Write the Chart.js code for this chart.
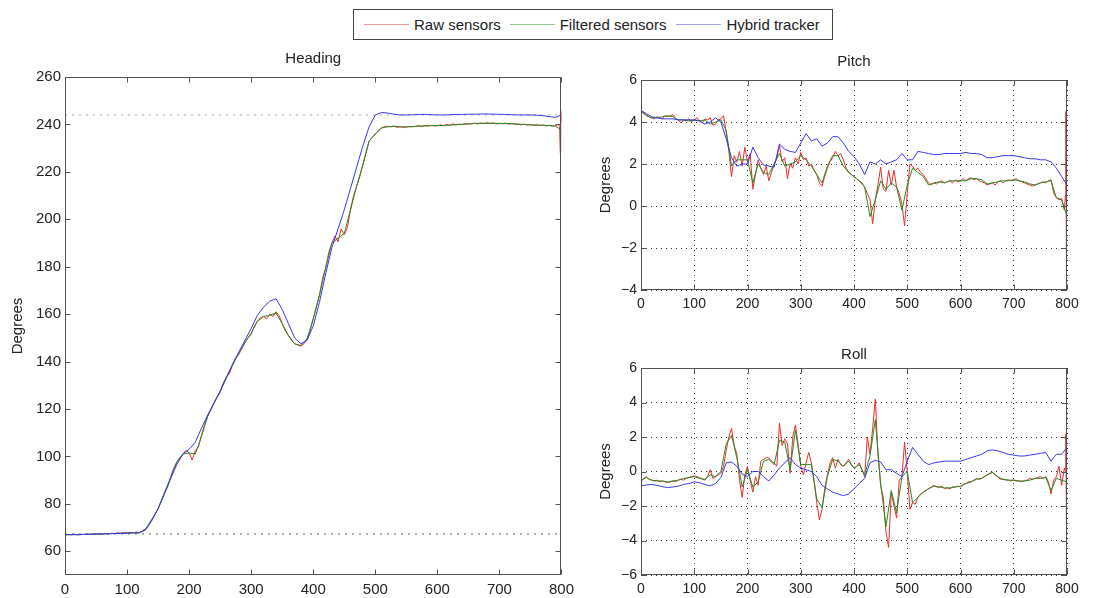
<!DOCTYPE html>
<html>
<head>
<meta charset="utf-8">
<title>Heading / Pitch / Roll</title>
<script src="https://cdn.jsdelivr.net/npm/chart.js@4.4.1/dist/chart.umd.min.js"></script>
<style>
  html, body { margin: 0; padding: 0; background: #fff; }
  body { width: 1099px; height: 598px; position: relative; overflow: hidden;
         font-family: "Liberation Sans", Arial, sans-serif; color: #222; }
  canvas { position: absolute; }
  #legend { position: absolute; left: 353px; top: 9px; width: 480px; height: 31px;
            border: 1px solid #444; box-sizing: border-box; display: flex;
            align-items: center; font-size: 15px; white-space: nowrap; }
  #legend .item { display: flex; align-items: center; }
  #legend .swatch { display: inline-block; height: 0; border-top: 1px solid; margin-right: 5px; }
</style>
</head>
<body>
<div id="legend"></div>
<canvas id="headingChart" width="580" height="553" style="left:0;top:45px"></canvas>
<canvas id="pitchChart" width="510" height="270" style="left:580px;top:45px"></canvas>
<canvas id="rollChart" width="510" height="263" style="left:580px;top:335px"></canvas>
<script>
// series names and colours
const seriesNames = ['Raw sensors', 'Filtered sensors', 'Hybrid tracker'];
const seriesColors = ['rgb(236,45,45)', 'rgb(35,140,35)', 'rgb(55,55,245)'];
const legendColors = ['#f29a9a', '#8cc88c', '#a0a0f0'];

// x ticks shared by all three panels
const timeTicks = [0, 100, 200, 300, 400, 500, 600, 700, 800];

// raw sensors are sampled every 5, with the last few samples at the end of the run
const rawTime = Array.from({ length: 160 }, (_, i) => i * 5).concat([797, 798, 799, 800]);
// filtered sensors and hybrid tracker every 10
const smoothTime = Array.from({ length: 81 }, (_, i) => i * 10);

// ---- Heading (degrees) ----
const headingYTicks = [60, 80, 100, 120, 140, 160, 180, 200, 220, 240, 260];
const headingRefLevels = [244, 67.3];
const headingRaw = [
  67, 67.1, 67, 67.2, 66.9, 67, 67.1, 67.3, 67.1, 67.2,
  67.4, 67.2, 67.3, 67.5, 67.4, 67.6, 67.5, 67.8, 67.6, 67.9,
  67.7, 68, 67.8, 68.1, 67.9, 68.5, 69.5, 71, 73.5, 75.5,
  78, 81, 84.5, 87, 91, 95, 97.5, 99.5, 101, 102.5,
  101.5, 98.5, 102.5, 104, 109, 113.5, 117, 119.5, 122.5, 125,
  127, 131, 133.5, 135, 138.5, 141.5, 143, 145.5, 148, 150,
  151.5, 155, 157, 158.5, 159, 158, 160, 159, 161, 159.5,
  156, 153, 151, 149, 147.5, 147, 146.5, 147.5, 149.5, 153,
  158, 163, 168, 175, 179.5, 186, 190, 193, 190.5, 196,
  193.5, 196.5, 204, 210, 214, 218, 223, 228, 233, 234.5,
  236, 237.5, 238.5, 239, 239.2, 239, 239.3, 238.8, 239, 238.7,
  238.9, 239.1, 239, 239.2, 239.4, 239.1, 239.5, 239.3, 239.6, 239.4,
  239.5, 239.8, 239.5, 240, 239.6, 240.2, 239.8, 240.1, 240, 240.4,
  240.1, 240.3, 240.5, 240.2, 240.6, 240.3, 240.7, 240.4, 240.6, 240.2,
  240.5, 240.3, 240.6, 240.1, 240.4, 240, 240.2, 239.8, 240.1, 239.7,
  240, 239.6, 239.9, 239.5, 239.8, 239.4, 239.7, 239.2, 239.5, 240,
  239, 228, 246, 241
];
const headingFiltered = [
  67, 67, 67.1, 67.1, 67.2, 67.2, 67.3, 67.4, 67.5, 67.5,
  67.6, 67.7, 67.8, 69.5, 73.5, 78, 84.5, 91, 97.5, 101,
  101.5, 101, 108.5, 117, 122.5, 127.5, 133.5, 138.5, 143.5, 148,
  152, 157, 159, 159.5, 160.5, 156, 151, 147.5, 146.8, 149.5,
  158, 168, 179.5, 190, 192, 194, 204, 214, 223, 233,
  236, 238.5, 239, 239.2, 239, 239, 239.1, 239.3, 239.4, 239.5,
  239.5, 239.6, 239.7, 239.9, 240, 240.2, 240.4, 240.5, 240.5, 240.5,
  240.4, 240.4, 240.3, 240.1, 240, 239.8, 239.7, 239.6, 239.5, 239.4,
  237.5
];
const headingHybrid = [
  67, 67, 67, 67.1, 67.2, 67.3, 67.3, 67.4, 67.5, 67.6,
  67.7, 67.8, 67.8, 69, 73, 78, 84, 90.5, 96.5, 101,
  103, 106, 112, 117.5, 122.5, 127.5, 133, 139, 144, 149,
  154, 159.5, 163, 165.5, 166.5, 162, 156, 150, 147.5, 149,
  155, 165, 177, 188, 196, 204, 213, 222, 231, 239,
  244, 245, 244.8, 244.3, 244, 244, 244.1, 244.2, 244.2, 244.1,
  244, 244, 244.1, 244.2, 244.2, 244.3, 244.3, 244.4, 244.4, 244.3,
  244.3, 244.2, 244.1, 244, 244, 244, 243.9, 243.7, 243.3, 243,
  244
];

// ---- Pitch (degrees) ----
const pitchYTicks = [-4, -2, 0, 2, 4, 6];
const pitchRaw = [
  4.55, 4.45, 4.35, 4.25, 4.2, 4.15, 4.25, 4.2, 4.15, 4.3,
  4.25, 4.3, 4.35, 4.15, 4.1, 3.95, 4.1, 4.05, 4.15, 4.0,
  4.1, 4.2, 4.05, 3.95, 4.15, 4.1, 4.2, 3.85, 3.9, 4.1,
  4.15, 4.3, 3.5, 2.6, 1.4, 2.4, 2.1, 2.6, 1.9, 2.8,
  2.1, 2.5, 0.8, 1.5, 2.2, 1.8, 1.5, 1.9, 1.2, 1.6,
  2.0, 2.3, 2.9, 2.1, 2.3, 1.3, 2.0, 1.8, 2.3, 2.0,
  2.55, 2.2, 2.3, 1.9, 2.0, 1.7, 1.5, 1.1, 0.95, 1.4,
  1.8, 2.1, 2.3, 2.6, 2.4, 2.5, 2.2, 1.8, 1.6, 1.5,
  1.4, 1.3, 1.2, 1.1, 0.9, 0.6, 0.3, -0.85, 0.3, 1.0,
  1.85, 0.8, 0.7, 1.7, 1.0, 1.7, 0.9, 0.6, 0.1, -0.95,
  0.6, 2.0, 1.9, 1.7, 1.8, 1.6, 1.5, 1.3, 1.1, 1.0,
  1.1, 1.05, 1.15, 1.2, 1.1, 1.15, 1.2, 1.1, 1.25, 1.15,
  1.2, 1.3, 1.2, 1.3, 1.35, 1.25, 1.3, 1.2, 1.15, 1.1,
  1.0, 1.05, 1.1, 1.0, 1.15, 1.2, 1.1, 1.2, 1.25, 1.2,
  1.25, 1.3, 1.2, 1.15, 1.1, 1.05, 1.0, 0.95, 1.0, 1.05,
  1.1, 1.15, 1.1, 1.2, 1.25, 0.6, 0.4, 0.3, 0.35, -0.2,
  0.5, 4.5, -3.0, 0.2
];
const pitchFiltered = [
  4.5, 4.3, 4.2, 4.2, 4.25, 4.3, 4.25, 4.1, 4.1, 4.05,
  4.1, 4.05, 4.1, 3.9, 4.0, 4.1, 3.6, 1.9, 2.2, 2.2,
  2.2, 1.1, 2.0, 1.6, 1.5, 2.0, 2.5, 1.9, 2.0, 2.1,
  2.4, 2.2, 1.9, 1.5, 1.1, 1.9, 2.4, 2.4, 1.9, 1.6,
  1.4, 1.2, 0.9, -0.5, 0.3, 1.2, 0.8, 1.1, 0.9, -0.2,
  1.0, 1.8, 1.6, 1.4, 1.0, 1.1, 1.15, 1.1, 1.2, 1.2,
  1.2, 1.2, 1.3, 1.3, 1.25, 1.05, 1.1, 1.15, 1.2, 1.2,
  1.25, 1.2, 1.15, 1.05, 1.0, 1.1, 1.15, 1.2, 0.4, 0.3,
  -0.5
];
const pitchHybrid = [
  4.55, 4.4, 4.25, 4.2, 4.15, 4.15, 4.15, 4.1, 4.1, 4.1,
  4.1, 4.05, 3.9, 4.0, 4.2, 4.0, 3.2, 2.3, 1.9, 2.0,
  2.0, 2.8, 2.3, 1.95, 1.9, 1.85, 2.95, 2.7, 2.6, 2.55,
  3.0, 3.45, 3.1, 3.2, 2.85, 3.0, 3.3, 3.3, 3.0, 2.6,
  2.35, 2.0, 1.5, 2.1, 2.0, 2.2, 2.0, 2.1, 2.2, 2.5,
  2.2, 2.2, 2.6, 2.55, 2.5, 2.45, 2.45, 2.5, 2.5, 2.5,
  2.5, 2.55, 2.5, 2.5, 2.45, 2.3, 2.3, 2.35, 2.4, 2.4,
  2.4, 2.35, 2.3, 2.25, 2.25, 2.2, 2.2, 2.1, 1.8, 1.4,
  1.0
];

// ---- Roll (degrees) ----
const rollYTicks = [-6, -4, -2, 0, 2, 4, 6];
const rollRaw = [
  -0.6, -0.4, -0.3, -0.45, -0.5, -0.55, -0.5, -0.6, -0.55, -0.6,
  -0.65, -0.6, -0.55, -0.6, -0.5, -0.45, -0.5, -0.4, -0.35, -0.3,
  -0.25, -0.3, -0.35, -0.45, -0.5, -0.3, 0.1, -0.4, -0.3, -0.2,
  -0.1, 0.3, 1.2, 2.0, 2.5, 1.5, 1.0, -0.5, -1.5, -0.2,
  0.3, -0.5, -1.2, -0.3, -0.8, 0.6, 0.7, 0.8, 0.8, 0.6,
  0.5, 0.3, 2.8, 1.5, 1.9, 1.6, -0.1, 2.0, 2.7, 1.6,
  0.3, -0.2, 0.5, 1.1, 0.5, -0.5, -1.8, -2.8, -2.2, -1.0,
  -0.2, 0.5, 0.8, 0.2, 0.7, 0.4, 0.3, 0.5, 0.7, 0.4,
  0.2, 0.3, 0.5, 0.1, -0.3, 2.0, 1.0, 2.5, 4.2, 1.0,
  -0.8, -1.5, -3.5, -4.4, -1.2, -2.0, -2.7, -0.5, -0.3, 1.7,
  0.0, -2.2, -1.8, -1.9, -1.5, -1.3, -1.2, -1.1, -1.0, -0.9,
  -0.8, -0.9, -0.9, -0.85, -1.0, -0.95, -1.0, -0.9, -0.9, -0.85,
  -0.9, -0.75, -0.7, -0.6, -0.6, -0.5, -0.4, -0.45, -0.4, -0.3,
  -0.2, -0.1, -0.05, -0.2, -0.3, -0.45, -0.45, -0.5, -0.5, -0.55,
  -0.5, -0.55, -0.55, -0.6, -0.55, -0.5, -0.4, -0.45, -0.4, -0.35,
  -0.3, -0.4, -0.3, -0.6, -1.3, -0.5, -0.3, 0.3, -0.8, 0.2,
  0.0, 2.2, -3.0, -0.5
];
const rollFiltered = [
  -0.5, -0.35, -0.5, -0.55, -0.55, -0.6, -0.55, -0.5, -0.4, -0.35,
  -0.3, -0.4, -0.45, -0.2, -0.3, 0.0, 1.6, 2.1, 0.8, -0.9,
  0.1, -0.9, -0.6, 0.6, 0.7, 0.4, 1.8, 1.7, 0.1, 2.4,
  0.4, 0.4, 0.4, -1.6, -2.1, -0.3, 0.7, 0.6, 0.3, 0.6,
  0.2, 0.4, -0.2, 0.9, 3.0, -0.7, -3.2, -1.1, -2.4, -0.3,
  0.0, -1.8, -1.5, -1.2, -1.0, -0.85, -0.9, -0.95, -0.95, -0.9,
  -0.85, -0.7, -0.6, -0.45, -0.4, -0.2, -0.05, -0.3, -0.45, -0.5,
  -0.5, -0.55, -0.55, -0.5, -0.4, -0.4, -0.35, -1.1, -0.4, -0.5,
  -0.6
];
const rollHybrid = [
  -0.83, -0.78, -0.75, -0.8, -0.88, -0.93, -0.9, -0.85, -0.75, -0.7,
  -0.6, -0.65, -0.75, -0.83, -0.7, -0.35, 0.5, 0.55, 0.3, -0.15,
  -0.3, 0.0, 0.0, -0.3, -0.55, -0.2, 0.2, 0.5, 0.8, 0.4,
  0.2, 0.1, 0.0, -0.3, -0.8, -1.0, -1.2, -1.3, -1.4, -1.3,
  -1.0, -0.7, -0.4, 0.5, 0.65, 0.55, 0.1, 0.1, -0.1, -0.3,
  0.6, 1.4, 1.0, 0.6, 0.4, 0.5, 0.55, 0.6, 0.6, 0.6,
  0.6, 0.7, 0.8, 0.9, 1.0, 1.2, 1.25, 1.2, 1.1, 1.0,
  0.95, 0.9, 0.9, 0.95, 1.0, 1.05, 1.1, 0.6, 1.0, 1.0,
  1.4
];

const FONT = '"Liberation Sans", Arial, sans-serif';

// legend box above the panels
const legendEl = document.getElementById('legend');
const legendLayout = [
  { pad: 10, line: 45 },
  { pad: 9, line: 45 },
  { pad: 10, line: 45 }
];
seriesNames.forEach((name, i) => {
  const item = document.createElement('span');
  item.className = 'item';
  item.style.marginLeft = legendLayout[i].pad + 'px';
  const sw = document.createElement('span');
  sw.className = 'swatch';
  sw.style.width = legendLayout[i].line + 'px';
  sw.style.borderTopColor = legendColors[i];
  item.appendChild(sw);
  item.appendChild(document.createTextNode(name));
  legendEl.appendChild(item);
});

function toPoints(xs, ys) {
  const n = Math.min(xs.length, ys.length);
  const pts = [];
  for (let i = 0; i < n; i++) pts.push({ x: xs[i], y: ys[i] });
  return pts;
}

function lineSet(i, xs, ys, order) {
  return {
    label: seriesNames[i],
    data: toPoints(xs, ys),
    borderColor: seriesColors[i],
    borderWidth: 1,
    pointRadius: 0,
    tension: 0,
    order: order
  };
}

// axes box with inward tick marks on all four sides
const frameTicks = {
  id: 'frameTicks',
  afterDatasetsDraw(chart) {
    const { ctx, chartArea: a, scales } = chart;
    const L = Math.round(a.left) + 0.5, R = Math.round(a.right) - 0.5;
    const T = Math.round(a.top) + 0.5, B = Math.round(a.bottom) - 0.5;
    ctx.save();
    ctx.strokeStyle = '#505050';
    ctx.lineWidth = 1;
    ctx.beginPath();
    scales.x.ticks.forEach(t => {
      const px = Math.round(scales.x.getPixelForValue(t.value)) + 0.5;
      ctx.moveTo(px, B); ctx.lineTo(px, B - 5);
      ctx.moveTo(px, T); ctx.lineTo(px, T + 5);
    });
    scales.y.ticks.forEach(t => {
      const py = Math.round(scales.y.getPixelForValue(t.value)) + 0.5;
      ctx.moveTo(L, py); ctx.lineTo(L + 5, py);
      ctx.moveTo(R, py); ctx.lineTo(R - 5, py);
    });
    ctx.stroke();
    ctx.strokeRect(L, T, R - L, B - T);
    ctx.restore();
  }
};

function minusSign(v) {
  return String(v).replace('-', '\u2212');
}

function makePanel(id, cfg) {
  const ctx = document.getElementById(id).getContext('2d');
  return new Chart(ctx, {
    type: 'line',
    data: { datasets: cfg.datasets },
    options: {
      responsive: false,
      animation: false,
      devicePixelRatio: 1,
      layout: { padding: { left: 0, right: cfg.padRight, top: 0, bottom: 0 } },
      plugins: {
        legend: { display: false },
        tooltip: { enabled: false },
        title: {
          display: true,
          text: cfg.title,
          fullSize: false,
          color: '#222',
          font: { family: FONT, size: 15, weight: 'normal' },
          padding: { top: cfg.titleTop, bottom: cfg.titleBottom }
        }
      },
      scales: {
        x: {
          type: 'linear',
          min: 0,
          max: 800,
          afterBuildTicks: s => { s.ticks = timeTicks.map(v => ({ value: v })); },
          afterFit: s => { s.height = cfg.xHeight; },
          ticks: {
            color: '#222',
            padding: cfg.xPad,
            maxRotation: 0,
            font: { family: FONT, size: cfg.tickSize }
          },
          grid: {
            display: cfg.grid,
            drawTicks: false,
            color: '#2a2a2a',
            lineWidth: 1
          },
          border: { display: false, dash: [1, 4] }
        },
        y: {
          type: 'linear',
          min: cfg.yMin,
          max: cfg.yMax,
          afterBuildTicks: s => { s.ticks = cfg.yTicks.map(v => ({ value: v })); },
          afterFit: s => { s.width = cfg.yWidth; },
          ticks: {
            color: '#222',
            padding: 4,
            font: { family: FONT, size: cfg.tickSize },
            callback: v => minusSign(v)
          },
          grid: {
            display: cfg.grid,
            drawTicks: false,
            color: '#2a2a2a',
            lineWidth: 1
          },
          border: { display: false, dash: [1, 4] },
          title: {
            display: true,
            text: 'Degrees',
            color: '#222',
            font: { family: FONT, size: 15 },
            padding: { top: cfg.yTitlePad, bottom: 0 }
          }
        }
      }
    },
    plugins: [frameTicks]
  });
}

// dotted reference levels on the heading panel
const headingRefSets = headingRefLevels.map((lvl, i) => ({
  label: 'ref' + i,
  data: [{ x: 0, y: lvl }, { x: 800, y: lvl }],
  borderColor: i === 0 ? '#a8a8a8' : '#606060',
  borderWidth: 1,
  borderDash: [2, 5],
  pointRadius: 0,
  order: 5
}));

makePanel('headingChart', {
  title: 'Heading',
  titleTop: 5, titleBottom: 9,
  padRight: 15,
  yWidth: 65, yTitlePad: 9,
  xHeight: 23, xPad: 6,
  tickSize: 15,
  grid: false,
  yMin: 50, yMax: 260, yTicks: headingYTicks,
  datasets: [
    lineSet(0, rawTime, headingRaw, 2),
    lineSet(1, smoothTime, headingFiltered, 1),
    lineSet(2, smoothTime, headingHybrid, 0)
  ].concat(headingRefSets)
});

makePanel('pitchChart', {
  title: 'Pitch',
  titleTop: 8, titleBottom: 9,
  padRight: 23,
  yWidth: 61, yTitlePad: 17,
  xHeight: 25, xPad: 6,
  tickSize: 14,
  grid: true,
  yMin: -4, yMax: 6, yTicks: pitchYTicks,
  datasets: [
    lineSet(0, rawTime, pitchRaw, 2),
    lineSet(1, smoothTime, pitchFiltered, 1),
    lineSet(2, smoothTime, pitchHybrid, 0)
  ]
});

makePanel('rollChart', {
  title: 'Roll',
  titleTop: 11, titleBottom: 4,
  padRight: 23,
  yWidth: 61, yTitlePad: 17,
  xHeight: 23, xPad: 6,
  tickSize: 14,
  grid: true,
  yMin: -6, yMax: 6, yTicks: rollYTicks,
  datasets: [
    lineSet(0, rawTime, rollRaw, 2),
    lineSet(1, smoothTime, rollFiltered, 1),
    lineSet(2, smoothTime, rollHybrid, 0)
  ]
});
</script>
</body>
</html>
